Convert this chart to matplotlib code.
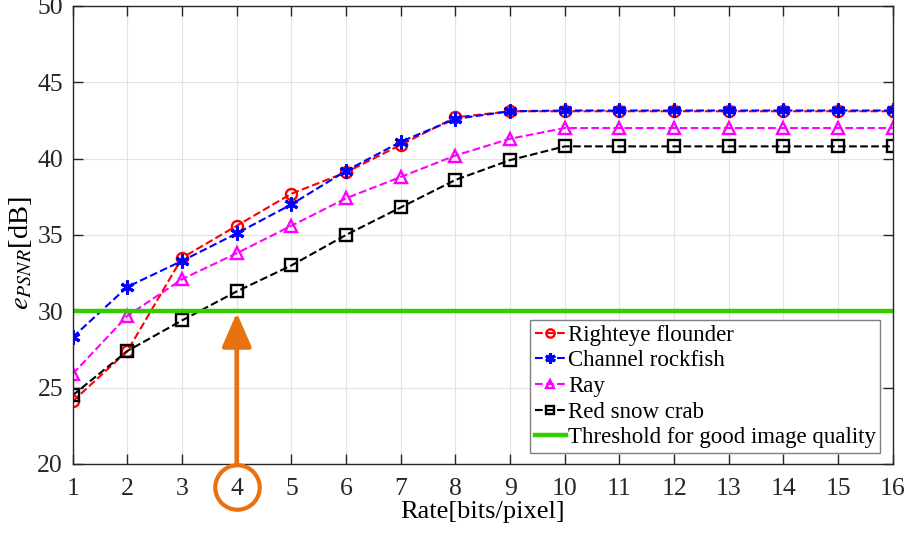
import matplotlib
matplotlib.use("Agg")
import matplotlib.pyplot as plt

# --- data ---
rate = list(range(1, 17))
flounder = [24.1, 27.4, 33.5, 35.6, 37.7, 39.1, 40.9, 42.7, 43.1, 43.1, 43.1, 43.1, 43.1, 43.1, 43.1, 43.1]
rockfish = [28.3, 31.6, 33.3, 35.1, 37.0, 39.2, 41.1, 42.6, 43.1, 43.15, 43.15, 43.15, 43.15, 43.15, 43.15, 43.15]
ray = [25.9, 29.7, 32.1, 33.8, 35.6, 37.4, 38.8, 40.2, 41.3, 42.0, 42.0, 42.0, 42.0, 42.0, 42.0, 42.0]
crab = [24.5, 27.4, 29.4, 31.3, 33.0, 35.0, 36.8, 38.6, 39.9, 40.8, 40.8, 40.8, 40.8, 40.8, 40.8, 40.8]
threshold = 30
highlight_rate = 4

ORANGE = "#e8720f"
GREEN = "#33cc00"
ASTERISK = (6, 2, 0)

plt.rcParams.update({
    "font.family": ["Liberation Serif", "DejaVu Serif"],
    "mathtext.fontset": "stix",
    "font.size": 18,
})

fig = plt.figure(figsize=(9.1, 5.4), dpi=100)
ax = fig.add_axes([0.080, 0.141, 0.901, 0.848])

kw = dict(ls="--", lw=1.5, ms=8, mew=1.7)
ax.plot(rate, flounder, color="red", marker="o", mfc="none", label="Righteye flounder", **kw)
ax.plot(rate, rockfish, color="blue", marker=ASTERISK, label="Channel rockfish",
        ls="--", lw=1.5, ms=10, mew=2.2)
ax.plot(rate, ray, color="magenta", marker="^", mfc="none", label="Ray", **kw)
ax.plot(rate, crab, color="black", marker="s", mfc="none", label="Red snow crab", **kw)
ax.axhline(threshold, color=GREEN, lw=3.2, label="Threshold for good image quality")

ax.set_xlim(1, 16)
ax.set_ylim(20, 50)
ax.set_xticks(rate)
ax.set_yticks(range(20, 51, 5))
ax.grid(True, color="#e3e3e3", lw=0.8)
ax.set_axisbelow(True)
ax.tick_params(direction="in", top=True, right=True, length=7, width=1,
               labelsize=18.5, colors="#262626")
ax.tick_params(axis="x", pad=10)
ax.tick_params(axis="y", pad=7)
for s in ax.spines.values():
    s.set_color("#262626")
    s.set_linewidth(1.0)

ax.set_xlabel("Rate[bits/pixel]", fontsize=19, labelpad=1)
ax.set_ylabel(r"$e_{PSNR}$[dB]", fontsize=20.5)
ax.yaxis.set_label_coords(-0.047, 0.46)

leg = ax.legend(loc="lower right", bbox_to_anchor=(0.985, 0.024), fontsize=16.5,
                handlelength=1.35, handletextpad=0.1, borderpad=0.2,
                labelspacing=0.2, borderaxespad=0.0, fancybox=False,
                framealpha=1, edgecolor="#7f7f7f", markerscale=0.75)
leg.get_frame().set_linewidth(1.0)

# orange arrow from the rate axis up to the threshold, and circle round tick 4
ax.annotate("", xy=(highlight_rate, threshold - 0.1), xytext=(highlight_rate, 20),
            arrowprops=dict(arrowstyle="-|>,head_length=1.15,head_width=0.5",
                            color=ORANGE, lw=3.4, shrinkA=0, shrinkB=0),
            annotation_clip=False)
ax.plot([highlight_rate], [18.5], marker="o", ms=32, mfc="none", mec=ORANGE,
        mew=3.0, clip_on=False, zorder=5)

fig.savefig("out.png", dpi=100)
